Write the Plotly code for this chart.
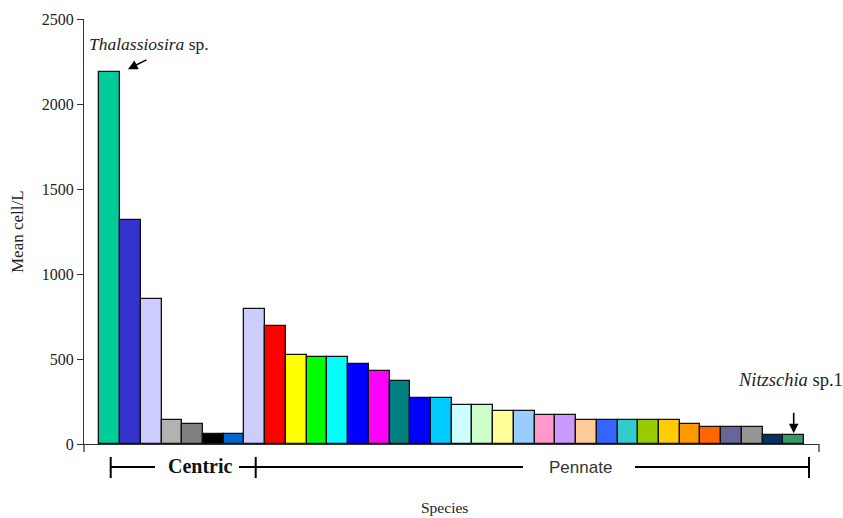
import plotly.graph_objects as go

species_idx = list(range(34))
group = ["Centric"] * 7 + ["Pennate"] * 27
mean_cells = [2190, 1320, 855, 140, 115, 58, 58,
              797, 697, 526, 510, 510, 469, 428, 369, 270, 270,
              229, 229, 195, 195, 171, 171, 141, 141, 141, 141, 141,
              115, 98, 98, 98, 55, 55]
bar_colors = ["#00CC99", "#3333CC", "#CCCCFF", "#B2B2B2", "#808080", "#000000", "#0066CC",
              "#CCCCFF", "#FF0000", "#FFFF00", "#00FF00", "#00FFFF", "#0000FF", "#FF00FF",
              "#008080", "#0000FF", "#00CCFF", "#CCFFFF", "#CCFFCC", "#FFFF99", "#99CCFF",
              "#FF99CC", "#CC99FF", "#FFCC99", "#3366FF", "#33CCCC", "#99CC00", "#FFCC00",
              "#FF9900", "#FF6600", "#666699", "#969696", "#003366", "#339966"]
y_ticks = [0, 500, 1000, 1500, 2000, 2500]

SERIF = "Liberation Serif"

fig = go.Figure(go.Bar(
    x=species_idx, y=mean_cells,
    marker=dict(color=bar_colors, line=dict(color="#111111", width=1.3)),
    width=1.0, hoverinfo="skip",
))

L, R, T, B = 84, 24, 19, 74
W, H = 843, 518
pw, ph = W - L - R, H - T - B

fig.update_layout(
    width=W, height=H,
    margin=dict(l=L, r=R, t=T, b=B),
    paper_bgcolor="white", plot_bgcolor="white",
    showlegend=False, bargap=0,
    font=dict(family=SERIF, color="#222222"),
    xaxis=dict(range=[-1.24, 34.22], showticklabels=False, ticks="",
               showgrid=False, zeroline=False, showline=True,
               linecolor="#333333", linewidth=1.3),
    yaxis=dict(range=[0, 2500], tickvals=y_ticks, ticks="outside", ticklen=6,
               tickcolor="#333333", tickwidth=1.3, showgrid=False, zeroline=False,
               showline=True, linecolor="#333333", linewidth=1.3, automargin=False,
               tickfont=dict(family=SERIF, size=16, color="#222222")),
)

def px_x(p):
    return (p - L) / pw

def px_y(p):
    return (H - B - p) / ph

shapes = []
# end tick marks of the category axis
for xp in (84, 819):
    shapes.append(dict(type="line", xref="paper", yref="paper",
                       x0=px_x(xp), x1=px_x(xp), y0=0, y1=px_y(452),
                       line=dict(color="#333333", width=1.3)))
# group brackets
yb = 467
segs = [(110.7, 155), (239, 523), (635, 809)]
for a, b in segs:
    shapes.append(dict(type="line", xref="paper", yref="paper",
                       x0=px_x(a), x1=px_x(b), y0=px_y(yb), y1=px_y(yb),
                       line=dict(color="black", width=2)))
for xp in (110.7, 255.7, 809):
    shapes.append(dict(type="line", xref="paper", yref="paper",
                       x0=px_x(xp), x1=px_x(xp), y0=px_y(457), y1=px_y(478),
                       line=dict(color="black", width=2)))
fig.update_layout(shapes=shapes)

def label(text, xp, yp, size, family=SERIF, color="#222222", angle=0):
    return dict(text=text, xref="paper", yref="paper", x=px_x(xp), y=px_y(yp),
                xanchor="center", yanchor="middle", textangle=angle, showarrow=False,
                font=dict(family=family, size=size, color=color))

annotations = [
    label("Mean cell/L", 17, 232, 17, angle=-90),
    label("Species", 444, 507, 15.5),
    label("<b>Centric</b>", 200, 466, 20, color="#111111"),
    label("Pennate", 580, 467, 17, family="Liberation Sans", color="#333333"),
    label("<i>Thalassiosira</i> sp.", 149, 44, 17.5),
    label("<i>Nitzschia</i> sp.1", 790, 380, 18.5),
    dict(text="", x=species_idx[0] + 0.88, y=mean_cells[0] + 15, xref="x", yref="y",
         showarrow=True, arrowhead=2, arrowsize=1.2, arrowwidth=1.6, arrowcolor="black",
         ax=20, ay=-10, standoff=0),
    dict(text="", x=species_idx[-1], y=mean_cells[-1] + 8, xref="x", yref="y",
         showarrow=True, arrowhead=2, arrowsize=1.2, arrowwidth=1.6, arrowcolor="black",
         ax=0, ay=-22, standoff=0),
]
fig.update_layout(annotations=annotations)

fig.write_html("out.html", config={"displayModeBar": False},
               post_script="document.body.style.margin='0px';")
